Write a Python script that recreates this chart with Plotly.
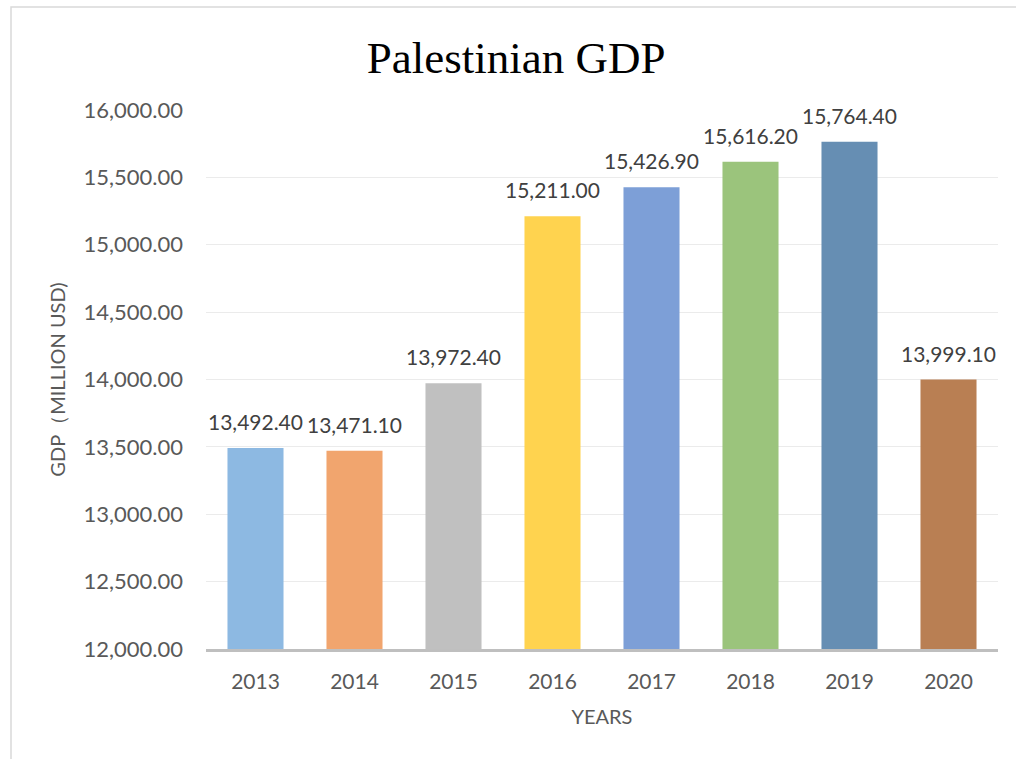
import plotly.graph_objects as go

years = ["2013", "2014", "2015", "2016", "2017", "2018", "2019", "2020"]
gdp = [13492.40, 13471.10, 13972.40, 15211.00, 15426.90, 15616.20, 15764.40, 13999.10]
colors = ["#8DB9E2", "#F1A56E", "#C0C0C0", "#FFD34F", "#7D9FD7", "#9BC47C", "#668EB3", "#B97F53"]

FONT = "Lato"
GRAY = "#595959"

fig = go.Figure()
fig.add_trace(go.Bar(
    x=years, y=gdp, marker=dict(color=colors, line=dict(width=0)),
    hoverinfo="x+y",
))

for i, y in enumerate(gdp):
    fig.add_annotation(x=i, y=y, xref="x", yref="y", text=f"{y:,.2f}", showarrow=False,
                       yanchor="bottom", yshift=12,
                       font=dict(family=FONT, size=21, color="#404040"))

fig.update_layout(
    width=1016, height=759,
    margin=dict(l=206, r=18, t=110, b=110),
    paper_bgcolor="white", plot_bgcolor="white",
    bargap=0.434,
    showlegend=False,
    title=dict(text="Palestinian GDP", x=0.508, xref="container", xanchor="center",
               y=0.925, yref="container", yanchor="middle",
               font=dict(family="Liberation Serif", size=45, color="black")),
    xaxis=dict(
        type="category",
        showgrid=False, showline=True, linecolor="#BFBFBF", linewidth=2.5,
        ticks="", ticklabelstandoff=12, tickfont=dict(family=FONT, size=21, color=GRAY),
        title=dict(text="YEARS", font=dict(family=FONT, size=20, color=GRAY), standoff=19),
    ),
    yaxis=dict(
        range=[12000, 16000], dtick=500, tickformat=",.2f",
        showgrid=True, gridcolor="#EBEBEB", gridwidth=1, zeroline=False,
        ticks="", ticklabelstandoff=22,
        tickfont=dict(family=FONT, size=22, color=GRAY),
        title=dict(text="GDP（MILLION USD)", font=dict(family=FONT, size=20, color=GRAY), standoff=12),
    ),
    shapes=[dict(type="rect", xref="paper", yref="paper",
                 x0=-0.2462, x1=1.1, y0=-0.3, y1=1.191,
                 line=dict(color="#D9D9D9", width=1.5), fillcolor="rgba(0,0,0,0)", layer="below")],
)

fig.write_html("out.html", config={"displayModeBar": False},
               post_script="document.body.style.margin='0';")
